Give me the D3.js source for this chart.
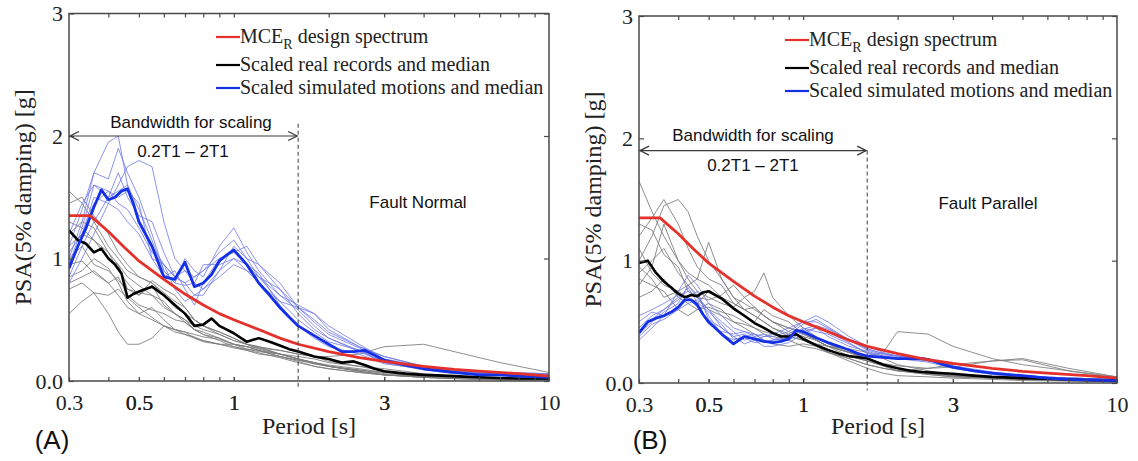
<!DOCTYPE html>
<html>
<head>
<meta charset="utf-8">
<script src="https://cdn.jsdelivr.net/npm/d3@7"></script>
<style>
  html, body { margin: 0; padding: 0; background: #fff; }
  svg { display: block; }
</style>
</head>
<body>
<svg id="chart" width="1138" height="461"></svg>
<script>
// ---------------- DATA ----------------
const xTickLabels = [0.3, 0.5, 1, 3, 10];
const xTicksAll = [0.4, 0.5, 0.6, 0.7, 0.8, 0.9, 1, 2, 3, 4, 5, 6, 7, 8, 9];
const yTickValues = [0, 1, 2, 3];
const yTickLabels = ["0.0", "1", "2", "3"];

const legendLabels = ["MCE", "Scaled real records and median", "Scaled simulated motions and median"];
const panelLetters = ["(A)", "(B)"];
const panelTitles = ["Fault Normal", "Fault Parallel"];
const bandLabel = "Bandwidth for scaling";
const bandRange = "0.2T1 \u2013 2T1";
const bandEndPeriod = 1.6;

// MCE_R design spectrum
const mcePeriods = [0.3, 0.35, 0.4, 0.45, 0.5, 0.6, 0.7, 0.8, 0.9, 1.0, 1.2, 1.4, 1.6, 2.0, 2.5, 3.0, 4, 5, 6, 8, 10];
const mceValues  = [1.35, 1.35, 1.22, 1.09, 0.98, 0.83, 0.71, 0.62, 0.55, 0.5, 0.42, 0.35, 0.3, 0.24, 0.19, 0.16, 0.12, 0.095, 0.08, 0.06, 0.04];

// medians period grid
const periodsMed = [0.3,0.32,0.34,0.36,0.38,0.4,0.42,0.44,0.46,0.48,0.5,0.55,0.6,0.65,0.7,0.75,0.8,0.85,0.9,0.95,1.0,1.1,1.2,1.3,1.4,1.5,1.6,1.8,2.0,2.2,2.4,2.6,2.8,3.0,3.5,4,5,6,7,8,10];
// individual records period grid
const periodsRec = [0.3,0.33,0.36,0.4,0.43,0.46,0.5,0.55,0.6,0.65,0.7,0.75,0.8,0.9,1.0,1.1,1.2,1.4,1.6,1.8,2.0,2.5,3.0,4,5,7,10];

// (A) Fault Normal
const fnRealMedian = [1.23,1.15,1.12,1.05,1.08,1.0,0.95,0.88,0.68,0.71,0.73,0.77,0.7,0.62,0.55,0.45,0.46,0.51,0.45,0.42,0.39,0.32,0.35,0.32,0.29,0.26,0.24,0.2,0.18,0.15,0.16,0.13,0.1,0.08,0.06,0.05,0.04,0.03,0.025,0.02,0.02];
const fnSimMedian  = [0.92,1.1,1.25,1.42,1.56,1.48,1.5,1.55,1.57,1.45,1.3,1.1,0.85,0.83,0.97,0.77,0.8,0.87,0.98,1.03,1.07,0.95,0.8,0.7,0.6,0.52,0.45,0.37,0.3,0.24,0.24,0.25,0.21,0.17,0.13,0.1,0.07,0.05,0.05,0.04,0.03];
const fnRealRecords = [
  [1.55,1.45,1.3,1.1,1.0,0.9,0.85,0.8,0.7,0.6,0.55,0.5,0.45,0.4,0.35,0.3,0.28,0.22,0.18,0.14,0.12,0.08,0.05,0.03,0.02,0.01,0.01],
  [1.45,1.5,1.35,1.2,1.05,0.95,0.85,0.8,0.72,0.65,0.6,0.5,0.45,0.38,0.33,0.3,0.26,0.22,0.18,0.15,0.12,0.09,0.06,0.04,0.03,0.02,0.01],
  [1.2,1.3,1.25,1.05,0.9,0.8,0.7,0.78,0.62,0.55,0.5,0.42,0.4,0.35,0.3,0.28,0.25,0.2,0.17,0.15,0.12,0.08,0.05,0.03,0.02,0.015,0.01],
  [1.0,1.1,0.95,0.9,0.82,0.75,0.7,0.82,0.75,0.7,0.6,0.5,0.45,0.4,0.35,0.3,0.28,0.25,0.22,0.2,0.16,0.12,0.08,0.05,0.03,0.02,0.01],
  [0.95,0.98,0.88,0.8,0.85,0.7,0.62,0.58,0.55,0.5,0.48,0.42,0.38,0.35,0.3,0.26,0.24,0.22,0.2,0.18,0.15,0.12,0.1,0.06,0.04,0.02,0.01],
  [0.85,0.9,1.0,0.92,0.8,0.65,0.55,0.6,0.5,0.42,0.38,0.35,0.33,0.3,0.28,0.26,0.25,0.22,0.18,0.15,0.13,0.1,0.07,0.04,0.03,0.02,0.01],
  [0.75,0.8,0.72,0.7,0.75,0.68,0.6,0.52,0.45,0.4,0.38,0.36,0.33,0.3,0.27,0.25,0.22,0.2,0.17,0.14,0.12,0.08,0.05,0.03,0.02,0.01,0.01],
  [0.55,0.65,0.72,0.55,0.4,0.3,0.3,0.35,0.45,0.42,0.4,0.38,0.36,0.34,0.3,0.28,0.25,0.2,0.16,0.12,0.1,0.07,0.05,0.03,0.02,0.01,0.01],
  [0.8,0.85,0.9,0.8,0.7,0.6,0.55,0.5,0.45,0.42,0.4,0.35,0.32,0.3,0.3,0.28,0.27,0.25,0.22,0.2,0.2,0.22,0.28,0.3,0.24,0.15,0.07],
  [1.3,1.25,1.15,1.0,0.95,0.85,0.78,0.7,0.65,0.55,0.5,0.45,0.42,0.38,0.33,0.3,0.27,0.22,0.18,0.15,0.12,0.09,0.07,0.05,0.035,0.02,0.015],
  [1.1,1.2,1.15,1.05,0.95,0.75,0.72,0.7,0.6,0.55,0.48,0.42,0.38,0.33,0.28,0.25,0.23,0.19,0.15,0.12,0.1,0.07,0.05,0.04,0.03,0.02,0.01]
];
const fnSimRecords = [
  [1.0,1.3,1.7,1.95,2.0,1.6,1.3,1.1,0.95,0.85,0.8,0.85,0.9,1.05,1.15,1.0,0.85,0.65,0.5,0.4,0.32,0.25,0.15,0.1,0.07,0.06,0.05],
  [0.9,1.2,1.5,1.45,1.6,1.75,1.8,1.75,1.3,1.0,0.9,0.85,0.9,1.0,1.05,1.1,0.95,0.8,0.6,0.55,0.45,0.3,0.18,0.12,0.08,0.06,0.05],
  [1.1,1.4,1.7,1.65,1.9,1.7,1.5,1.2,0.9,0.8,1.0,0.9,0.85,1.1,1.25,1.05,0.9,0.7,0.58,0.45,0.35,0.25,0.16,0.1,0.07,0.05,0.04],
  [0.95,1.25,1.6,1.55,1.5,1.55,1.45,1.0,0.85,0.9,0.75,0.62,0.8,1.0,1.05,0.95,0.88,0.62,0.45,0.35,0.28,0.22,0.14,0.1,0.07,0.06,0.05],
  [1.2,1.45,1.6,1.5,1.55,1.6,1.4,1.15,0.9,0.8,0.78,0.8,0.95,0.95,1.0,0.95,0.85,0.7,0.62,0.55,0.42,0.28,0.2,0.12,0.08,0.07,0.06],
  [0.85,1.1,1.3,1.5,1.7,1.5,1.35,1.3,1.05,0.85,0.8,0.7,0.7,0.9,1.0,0.9,0.85,0.75,0.55,0.42,0.35,0.24,0.15,0.09,0.06,0.05,0.04],
  [1.05,1.2,1.45,1.55,1.45,1.4,1.25,1.05,0.95,0.75,0.65,0.7,0.75,0.9,1.1,1.0,0.95,0.75,0.6,0.48,0.38,0.27,0.17,0.11,0.08,0.06,0.05],
  [0.8,1.0,1.2,1.45,1.4,1.3,1.2,1.0,0.95,0.85,0.9,0.8,0.75,0.85,0.95,0.9,0.8,0.65,0.6,0.5,0.4,0.28,0.2,0.12,0.09,0.07,0.06]
];

// (B) Fault Parallel
const fpRealMedian = [0.98,1.0,0.9,0.83,0.78,0.73,0.7,0.72,0.71,0.74,0.75,0.69,0.61,0.55,0.49,0.45,0.41,0.38,0.38,0.4,0.36,0.31,0.27,0.24,0.22,0.21,0.2,0.15,0.12,0.1,0.09,0.085,0.08,0.075,0.06,0.05,0.04,0.035,0.03,0.025,0.02];
const fpSimMedian  = [0.41,0.5,0.53,0.55,0.58,0.62,0.68,0.68,0.64,0.56,0.5,0.4,0.32,0.38,0.36,0.34,0.33,0.34,0.36,0.43,0.42,0.37,0.33,0.3,0.27,0.24,0.22,0.21,0.2,0.2,0.2,0.18,0.15,0.13,0.1,0.08,0.06,0.04,0.03,0.025,0.02];
const fpRealRecords = [
  [1.65,1.4,1.2,1.0,0.9,0.85,0.8,0.7,0.65,0.6,0.55,0.5,0.45,0.4,0.38,0.35,0.3,0.25,0.2,0.15,0.12,0.08,0.06,0.04,0.03,0.02,0.01],
  [1.2,1.35,1.5,1.3,1.1,0.95,0.85,0.8,0.65,0.6,0.62,0.55,0.5,0.45,0.4,0.35,0.3,0.22,0.18,0.14,0.1,0.07,0.05,0.04,0.03,0.02,0.01],
  [1.0,1.2,1.45,1.5,1.4,1.2,1.0,0.85,0.7,0.6,0.55,0.5,0.45,0.38,0.35,0.3,0.25,0.2,0.15,0.12,0.1,0.08,0.06,0.04,0.03,0.02,0.01],
  [0.9,1.0,1.1,0.9,0.8,0.85,1.15,0.85,0.7,0.65,0.6,0.55,0.5,0.45,0.42,0.35,0.3,0.28,0.25,0.2,0.15,0.1,0.06,0.04,0.03,0.02,0.01],
  [0.8,0.95,1.3,1.0,0.85,0.75,0.7,0.65,0.62,0.7,0.75,0.9,0.7,0.55,0.45,0.38,0.32,0.25,0.2,0.15,0.12,0.08,0.06,0.05,0.04,0.02,0.01],
  [1.1,0.9,0.8,0.75,0.7,0.65,0.75,0.7,0.6,0.55,0.5,0.6,0.55,0.5,0.4,0.35,0.3,0.25,0.22,0.25,0.42,0.4,0.3,0.2,0.15,0.1,0.05],
  [0.7,0.75,0.85,0.7,0.65,0.6,0.62,0.58,0.55,0.5,0.45,0.42,0.4,0.38,0.35,0.32,0.3,0.25,0.2,0.16,0.14,0.12,0.13,0.18,0.2,0.12,0.05],
  [0.95,0.85,0.7,0.75,0.8,0.7,0.6,0.55,0.5,0.48,0.45,0.4,0.38,0.35,0.3,0.28,0.25,0.2,0.15,0.12,0.1,0.12,0.15,0.18,0.19,0.1,0.04],
  [0.85,0.8,0.75,0.6,0.55,0.6,0.65,0.6,0.5,0.45,0.4,0.35,0.32,0.3,0.32,0.3,0.25,0.18,0.12,0.08,0.06,0.05,0.04,0.03,0.02,0.015,0.01],
  [1.3,1.25,1.05,0.95,0.75,0.7,0.68,0.72,0.8,0.7,0.62,0.55,0.5,0.42,0.38,0.3,0.27,0.22,0.18,0.14,0.1,0.07,0.05,0.04,0.03,0.02,0.01]
];
const fpSimRecords = [
  [0.35,0.45,0.55,0.75,0.88,0.8,0.65,0.55,0.45,0.42,0.4,0.38,0.4,0.45,0.5,0.5,0.45,0.35,0.28,0.24,0.22,0.2,0.14,0.09,0.06,0.04,0.03],
  [0.45,0.55,0.6,0.7,0.75,0.7,0.6,0.45,0.38,0.4,0.35,0.38,0.38,0.42,0.5,0.55,0.5,0.38,0.3,0.25,0.22,0.2,0.14,0.08,0.06,0.04,0.03],
  [0.4,0.5,0.58,0.65,0.8,0.72,0.55,0.4,0.35,0.38,0.4,0.35,0.32,0.38,0.45,0.42,0.4,0.32,0.25,0.22,0.2,0.18,0.13,0.08,0.05,0.04,0.03],
  [0.5,0.58,0.55,0.6,0.65,0.68,0.6,0.5,0.42,0.35,0.38,0.4,0.36,0.35,0.42,0.45,0.38,0.3,0.26,0.22,0.21,0.19,0.12,0.08,0.05,0.04,0.03],
  [0.38,0.48,0.52,0.6,0.7,0.75,0.52,0.45,0.38,0.32,0.35,0.3,0.3,0.33,0.4,0.45,0.42,0.33,0.24,0.21,0.2,0.17,0.12,0.07,0.05,0.03,0.02],
  [0.55,0.6,0.65,0.72,0.7,0.62,0.48,0.42,0.4,0.42,0.38,0.33,0.35,0.4,0.48,0.52,0.46,0.35,0.27,0.23,0.22,0.2,0.13,0.08,0.06,0.04,0.03],
  [0.42,0.52,0.6,0.68,0.78,0.66,0.58,0.48,0.36,0.37,0.33,0.34,0.35,0.37,0.44,0.47,0.44,0.36,0.28,0.24,0.22,0.2,0.13,0.08,0.05,0.04,0.03]
];

// ---------------- STYLE ----------------
const C = {
  red: "#e4312b", black: "#000", gray: "#7a7a7a", blue: "#1430e6", blueThin: "#6f78e6",
  frame: "#4a4a4a", annot: "#3a3a3a"
};
const SERIF = "'Liberation Serif','Times New Roman',serif";
const SANS = "'Liberation Sans',Arial,sans-serif";

const svg = d3.select("#chart");

const panels = [
  { L: 69, R: 549, T: 13.5, B: 381, real: fnRealMedian, sim: fnSimMedian, realRec: fnRealRecords, simRec: fnSimRecords,
    letter: panelLetters[0], title: panelTitles[0], titleX: 418, titleY: 208,
    arrowVal: 2.0, dashTopVal: 2.1, bandTextY: 128, rangeTextY: 157, bandCx: 191, rangeCx: 183,
    legendX: 216, legendY: [37, 65, 88], letterX: 52, ylabX: 31 },
  { L: 639, R: 1117, T: 16, B: 383, real: fpRealMedian, sim: fpSimMedian, realRec: fpRealRecords, simRec: fpSimRecords,
    letter: panelLetters[1], title: panelTitles[1], titleX: 988, titleY: 209,
    arrowVal: 1.9, dashTopVal: 1.9, bandTextY: 141, rangeTextY: 171, bandCx: 753, rangeCx: 753,
    legendX: 785, legendY: [40, 68, 91], letterX: 650, ylabX: 601 }
];

panels.forEach((p, i) => {
  const x = d3.scaleLog().domain([0.3, 10]).range([p.L, p.R]);
  const y = d3.scaleLinear().domain([0, 3]).range([p.B, p.T]);
  const g = svg.append("g");

  const clipId = "clip" + i;
  svg.append("clipPath").attr("id", clipId).append("rect")
    .attr("x", p.L).attr("y", p.T).attr("width", p.R - p.L).attr("height", p.B - p.T);
  const plot = g.append("g").attr("clip-path", `url(#${clipId})`);

  const lineRec = d3.line().x((d, k) => x(periodsRec[k])).y(d => y(d));
  const lineMed = d3.line().x((d, k) => x(periodsMed[k])).y(d => y(d));
  const lineMce = d3.line().x((d, k) => x(mcePeriods[k])).y(d => y(d));

  plot.selectAll(".rec").data(p.realRec).join("path")
    .attr("d", lineRec).attr("fill", "none").attr("stroke", C.gray).attr("stroke-width", 1).attr("stroke-opacity", 0.85);
  plot.selectAll(".sim").data(p.simRec).join("path")
    .attr("d", lineRec).attr("fill", "none").attr("stroke", C.blueThin).attr("stroke-width", 1).attr("stroke-opacity", 0.8);
  plot.append("path").datum(p.real).attr("d", lineMed).attr("fill", "none").attr("stroke", C.black).attr("stroke-width", 2.6).attr("stroke-linejoin", "round");
  plot.append("path").datum(p.sim).attr("d", lineMed).attr("fill", "none").attr("stroke", C.blue).attr("stroke-width", 2.8).attr("stroke-linejoin", "round");
  plot.append("path").datum(mceValues).attr("d", lineMce).attr("fill", "none").attr("stroke", C.red).attr("stroke-width", 2.8).attr("stroke-linejoin", "round");

  // Axes
  const fmtX = d => xTickLabels.includes(d) ? String(d) : "";
  const bottom = g.append("g").attr("transform", `translate(0,${p.B})`)
    .call(d3.axisBottom(x).tickValues(xTickLabels.concat(xTicksAll)).tickSize(-4).tickPadding(13).tickFormat(fmtX));
  const top = g.append("g").attr("transform", `translate(0,${p.T})`)
    .call(d3.axisTop(x).tickValues(xTicksAll).tickSize(-4).tickFormat(""));
  const left = g.append("g").attr("transform", `translate(${p.L},0)`)
    .call(d3.axisLeft(y).tickValues(yTickValues).tickSize(-5).tickPadding(6).tickFormat((d, k) => yTickLabels[k]));
  const right = g.append("g").attr("transform", `translate(${p.R},0)`)
    .call(d3.axisRight(y).tickValues(yTickValues).tickSize(-5).tickFormat(""));
  [bottom, top, left, right].forEach(a => {
    a.select(".domain").remove();
    a.selectAll(".tick line").attr("stroke", C.frame).attr("stroke-width", 1.2);
    a.selectAll("text").attr("font-family", SERIF).attr("font-size", 22).attr("fill", "#222");
  });

  g.append("rect").attr("x", p.L).attr("y", p.T).attr("width", p.R - p.L).attr("height", p.B - p.T)
    .attr("fill", "none").attr("stroke", C.frame).attr("stroke-width", 1.5);

  // axis labels
  g.append("text").attr("x", (p.L + p.R) / 2).attr("y", 434).attr("text-anchor", "middle")
    .attr("font-family", SERIF).attr("font-size", 24).attr("fill", "#222").text("Period [s]");
  g.append("text").attr("transform", `translate(${p.ylabX},${(p.T + p.B) / 2}) rotate(-90)`).attr("text-anchor", "middle")
    .attr("font-family", SERIF).attr("font-size", 24).attr("fill", "#222").text("PSA(5% damping) [g]");

  // panel letter
  g.append("text").attr("x", p.letterX).attr("y", 449).attr("text-anchor", "middle")
    .attr("font-family", SANS).attr("font-size", 26).attr("fill", "#111").text(p.letter);

  // bandwidth annotation
  const xa = x(0.3), xb = x(bandEndPeriod), ya = y(p.arrowVal);
  g.append("line").attr("x1", xb).attr("x2", xb).attr("y1", y(p.dashTopVal)).attr("y2", y(-0.06))
    .attr("stroke", C.annot).attr("stroke-width", 1).attr("stroke-dasharray", "4,3");
  g.append("line").attr("x1", xa + 1).attr("x2", xb - 1).attr("y1", ya).attr("y2", ya)
    .attr("stroke", C.annot).attr("stroke-width", 1.2);
  const ah = 9, aw = 4.5;
  g.append("path").attr("d", `M${xa + 1 + ah},${ya - aw}L${xa + 1},${ya}L${xa + 1 + ah},${ya + aw}`)
    .attr("fill", "none").attr("stroke", C.annot).attr("stroke-width", 1.3);
  g.append("path").attr("d", `M${xb - 1 - ah},${ya - aw}L${xb - 1},${ya}L${xb - 1 - ah},${ya + aw}`)
    .attr("fill", "none").attr("stroke", C.annot).attr("stroke-width", 1.3);
  g.append("text").attr("x", p.bandCx).attr("y", p.bandTextY).attr("text-anchor", "middle")
    .attr("font-family", SANS).attr("font-size", 17).attr("fill", "#111").text(bandLabel);
  g.append("text").attr("x", p.rangeCx).attr("y", p.rangeTextY).attr("text-anchor", "middle")
    .attr("font-family", SANS).attr("font-size", 17).attr("fill", "#111").text(bandRange);
  g.append("text").attr("x", p.titleX).attr("y", p.titleY).attr("text-anchor", "middle")
    .attr("font-family", SANS).attr("font-size", 17).attr("fill", "#111").text(p.title);

  // legend
  const legColors = [C.red, C.black, C.blue];
  legendLabels.forEach((lab, k) => {
    const ly = p.legendY[k];
    g.append("line").attr("x1", p.legendX).attr("x2", p.legendX + 24).attr("y1", ly).attr("y2", ly)
      .attr("stroke", legColors[k]).attr("stroke-width", 2.2);
    const t = g.append("text").attr("x", p.legendX + 24).attr("y", ly + 6)
      .attr("font-family", SERIF).attr("font-size", 20).attr("fill", "#222");
    if (k === 0) {
      t.append("tspan").text(lab);
      t.append("tspan").attr("font-size", 14).attr("dy", 6).text("R");
      t.append("tspan").attr("dy", -6).text(" design spectrum");
    } else {
      t.text(lab);
    }
  });
});
</script>
</body>
</html>
